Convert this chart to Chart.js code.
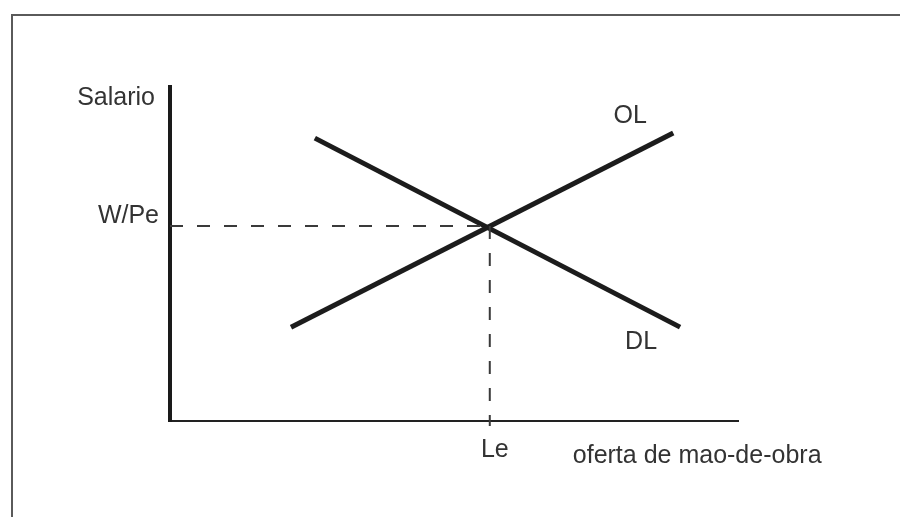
<!DOCTYPE html>
<html>
<head>
<meta charset="utf-8">
<script src="https://cdn.jsdelivr.net/npm/chart.js@4.4.1/dist/chart.umd.min.js"></script>
<style>
    html, body { margin: 0; padding: 0; background: #fff; overflow: hidden; }
    #wrap { position: relative; width: 900px; height: 517px; }
    #frame {
        position: absolute; left: 11px; top: 14px; width: 1000px; height: 600px;
        border-left: 2px solid #5a5a5a; border-top: 2px solid #5a5a5a;
    }
    #chart { position: absolute; left: 0; top: 0; }
</style>
</head>
<body>
<div id="wrap">
    <div id="frame"></div>
    <canvas id="chart" width="900" height="517"></canvas>
</div>
<script>
    // Axis ranges (arbitrary units)
    var xRange = [0, 100];
    var yRange = [0, 100];

    // Supply curve (OL) and demand curve (DL)
    var olX = [21.3, 88.6];
    var olY = [28.1, 86.2];
    var dlX = [25.5, 89.8];
    var dlY = [84.7, 28.1];

    // Equilibrium
    var leX = 56.3;
    var weY = 58.4;

    // Texts
    var yTitle = 'Salario';
    var xTitle = 'oferta de mao-de-obra';
    var weLabel = 'W/Pe';
    var leLabel = 'Le';
    var olLabel = 'OL';
    var dlLabel = 'DL';

    function toPoints(xs, ys) {
        return xs.map(function (x, i) { return {x: x, y: ys[i]}; });
    }

    var ink = '#1c1c1c';
    var textInk = '#333';
    var font = '25px "Liberation Sans", Arial, sans-serif';

    // Text labels placed from the scales
    var labelPlugin = {
        id: 'labels',
        afterDraw: function (chart) {
            var ctx = chart.ctx;
            var xs = chart.scales.x, ys = chart.scales.y;
            var area = chart.chartArea;
            ctx.save();
            ctx.fillStyle = textInk;
            ctx.font = font;
            ctx.textBaseline = 'alphabetic';

            ctx.textAlign = 'right';
            ctx.fillText(yTitle, area.left - 15, area.top + 18);
            ctx.fillText(weLabel, area.left - 11, ys.getPixelForValue(weY) - 3);

            ctx.textAlign = 'center';
            ctx.fillText(leLabel, xs.getPixelForValue(leX) + 5, area.bottom + 36);
            ctx.fillText(olLabel, xs.getPixelForValue(olX[1]) - 43, ys.getPixelForValue(olY[1]) - 10);
            ctx.fillText(dlLabel, xs.getPixelForValue(dlX[1]) - 39, ys.getPixelForValue(dlY[1]) + 22);

            ctx.textAlign = 'left';
            ctx.fillText(xTitle, xs.getPixelForValue(leX) + 83, area.bottom + 42);
            ctx.restore();
        }
    };

    var chart = new Chart(document.getElementById('chart').getContext('2d'), {
        type: 'scatter',
        data: {
            datasets: [
                {
                    label: 'W/Pe',
                    data: [{x: xRange[0], y: weY}, {x: leX, y: weY}],
                    showLine: true,
                    borderColor: '#3a3a3a',
                    borderWidth: 2,
                    borderDash: [13, 14],
                    pointRadius: 0
                },
                {
                    label: 'Le',
                    data: [{x: leX, y: weY}, {x: leX, y: yRange[0] - 1.5}],
                    showLine: true,
                    borderColor: '#3a3a3a',
                    borderWidth: 2,
                    borderDash: [13, 14],
                    pointRadius: 0,
                    clip: false
                },
                {
                    label: olLabel,
                    data: toPoints(olX, olY),
                    showLine: true,
                    borderColor: ink,
                    borderWidth: 5,
                    borderCapStyle: 'butt',
                    pointRadius: 0
                },
                {
                    label: dlLabel,
                    data: toPoints(dlX, dlY),
                    showLine: true,
                    borderColor: ink,
                    borderWidth: 5,
                    borderCapStyle: 'butt',
                    pointRadius: 0
                }
            ]
        },
        options: {
            responsive: false,
            animation: false,
            devicePixelRatio: 1,
            layout: {padding: {left: 170, top: 87, right: 162, bottom: 96}},
            plugins: {legend: {display: false}, tooltip: {enabled: false}},
            scales: {
                x: {
                    type: 'linear', min: xRange[0], max: xRange[1],
                    grid: {display: false, drawTicks: false},
                    ticks: {display: false},
                    border: {display: true, color: '#222', width: 2}
                },
                y: {
                    type: 'linear', min: yRange[0], max: yRange[1],
                    grid: {display: false, drawTicks: false},
                    ticks: {display: false},
                    border: {display: true, color: '#1a1a1a', width: 4}
                }
            }
        },
        plugins: [labelPlugin]
    });
</script>
</body>
</html>
